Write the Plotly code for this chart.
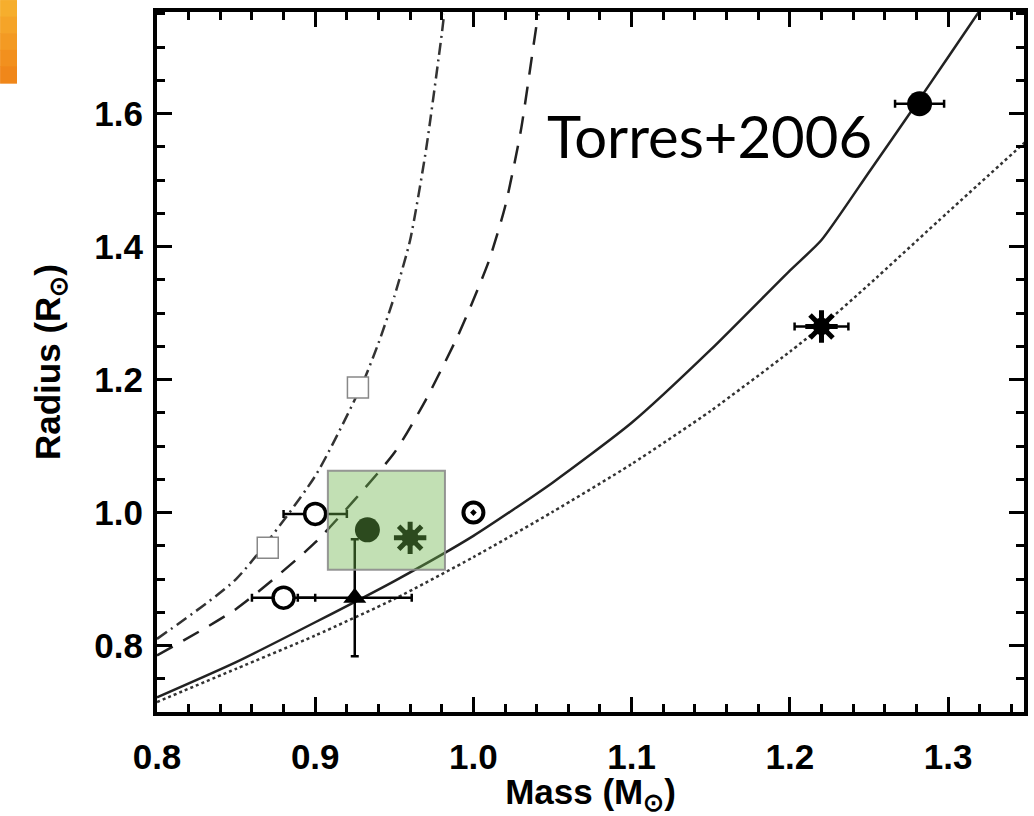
import plotly.graph_objects as go

# ---- model curves (mass in Msun, radius in Rsun) ----
solid_m = [0.80, 0.85, 0.90, 0.95, 1.00, 1.05, 1.10, 1.15, 1.20, 1.22, 1.25, 1.28, 1.30, 1.32]
solid_r = [0.722, 0.775, 0.835, 0.897, 0.965, 1.045, 1.135, 1.245, 1.364, 1.41, 1.512, 1.615, 1.685, 1.755]

dotted_m = [0.80, 0.85, 0.90, 0.95, 1.00, 1.05, 1.10, 1.15, 1.20, 1.22, 1.25, 1.30, 1.35]
dotted_r = [0.715, 0.765, 0.815, 0.87, 0.933, 1.001, 1.073, 1.153, 1.242, 1.28, 1.343, 1.452, 1.56]

dashed_m = [0.80, 0.85, 0.90, 0.95, 0.97, 0.99, 1.00, 1.01, 1.02, 1.03, 1.04, 1.0412]
dashed_r = [0.785, 0.855, 0.955, 1.09, 1.17, 1.265, 1.32, 1.38, 1.46, 1.575, 1.735, 1.75]

dashdot_m = [0.80, 0.85, 0.90, 0.93, 0.94, 0.95, 0.96, 0.97, 0.98, 0.9815]
dashdot_r = [0.81, 0.90, 1.055, 1.195, 1.255, 1.325, 1.41, 1.545, 1.72, 1.75]

# ---- observed systems ----
filled_m = [1.282, 0.933]
filled_r = [1.615, 0.974]
filled_mx = [0.0155, 0.0]

star_m = [1.22, 0.96]
star_r = [1.28, 0.962]
star_mx = [0.017, 0.0]
star_rx = [0.01, 0.0]

open_circ_m = [0.90, 0.88]
open_circ_r = [0.998, 0.872]
open_circ_mx = [0.02, 0.02]

square_m = [0.87, 0.927]
square_r = [0.947, 1.188]

tri_m = [0.925]
tri_r = [0.872]
tri_mx = [0.036]
tri_rx = [0.088]

sun_m = [1.0]
sun_r = [1.0]

# highlighted region
box_m = [0.908, 0.982]
box_r = [0.914, 1.063]

x_ticks = [0.8, 0.9, 1.0, 1.1, 1.2, 1.3]
y_ticks = [0.8, 1.0, 1.2, 1.4, 1.6]
label = "Torres+2006"

fig = go.Figure()
fig.add_trace(go.Scatter(x=solid_m, y=solid_r, mode="lines", line=dict(color="#222", width=2.5, shape="spline", smoothing=0.6)))
fig.add_trace(go.Scatter(x=dotted_m, y=dotted_r, mode="lines", line=dict(color="#333", width=2.5, dash="dot", shape="spline", smoothing=0.6)))
fig.add_trace(go.Scatter(x=dashed_m, y=dashed_r, mode="lines", line=dict(color="#222", width=2.5, dash="18px,12px", shape="spline", smoothing=0.6)))
fig.add_trace(go.Scatter(x=dashdot_m, y=dashdot_r, mode="lines", line=dict(color="#333", width=2.5, dash="12px,5px,2px,5px", shape="spline", smoothing=0.6)))

err = dict(type="data", color="black", thickness=2.5, width=4)
fig.add_trace(go.Scatter(x=tri_m, y=tri_r, mode="markers",
                         error_x=dict(array=tri_mx, **err), error_y=dict(array=tri_rx, **err),
                         marker=dict(symbol="triangle-up", size=20, color="black")))
fig.add_trace(go.Scatter(x=open_circ_m, y=open_circ_r, mode="markers",
                         error_x=dict(array=open_circ_mx, **err),
                         marker=dict(symbol="circle", size=21, color="white", line=dict(color="black", width=3.5))))
fig.add_trace(go.Scatter(x=square_m, y=square_r, mode="markers",
                         marker=dict(symbol="square", size=21, color="white", line=dict(color="#888", width=1.5))))
fig.add_trace(go.Scatter(x=filled_m, y=filled_r, mode="markers",
                         error_x=dict(array=filled_mx, **err),
                         marker=dict(symbol="circle", size=25, color="black")))
fig.add_trace(go.Scatter(x=star_m, y=star_r, mode="markers",
                         error_x=dict(array=star_mx, **err), error_y=dict(array=star_rx, **err),
                         marker=dict(symbol="asterisk", size=27, color="black", line=dict(color="black", width=5))))
fig.add_trace(go.Scatter(x=star_m, y=star_r, mode="markers",
                         marker=dict(symbol="circle", size=17, color="black")))
fig.add_trace(go.Scatter(x=sun_m, y=sun_r, mode="markers",
                         marker=dict(symbol="circle-dot", size=20, color="white", line=dict(color="black", width=4))))

fig.add_shape(type="rect", x0=box_m[0], x1=box_m[1], y0=box_r[0], y1=box_r[1], xref="x", yref="y",
              fillcolor="rgba(107,180,73,0.41)", line=dict(color="rgba(140,140,140,0.9)", width=2), layer="above")

# orange decoration at top-left
oranges = ["#F6AE2D", "#F5A428", "#F39A23", "#F2901E", "#F0871A"]
n = len(oranges)
for i, c in enumerate(oranges):
    y1 = 1.0171 - i * (1.0171 - 0.8986) / n
    y0 = 1.0171 - (i + 1) * (1.0171 - 0.8986) / n
    fig.add_shape(type="rect", xref="paper", yref="paper", x0=-0.181, x1=-0.1615, y0=y0 - 0.001, y1=y1,
                  fillcolor=c, line=dict(width=0), layer="above")

fig.add_annotation(x=1.0455, y=1.567, xref="x", yref="y", text=label, showarrow=False,
                   xanchor="left", yanchor="middle", font=dict(family="Lato", size=58, color="black"))

tickfont = dict(family="Liberation Sans", size=35, color="black", weight="bold")
titlefont = dict(family="Liberation Sans", size=35, color="black", weight="bold")
axis_common = dict(showgrid=False, zeroline=False, showline=True, linecolor="black", linewidth=4,
                   mirror="allticks", ticks="inside", ticklen=15, tickwidth=3, tickcolor="black",
                   tickfont=tickfont, automargin=False)
fig.update_xaxes(range=[0.8, 1.348], tickvals=x_ticks, ticktext=[f"{v:.1f}" for v in x_ticks],
                 minor=dict(dtick=0.02, tick0=0.8, ticks="inside", ticklen=8, tickwidth=2.5, tickcolor="black"),
                 ticklabelstandoff=11,
                 title=dict(text="Mass (M<sub>⊙</sub>)", font=titlefont, standoff=8),
                 **axis_common)
fig.update_yaxes(range=[0.7, 1.753], tickvals=y_ticks, ticktext=[f"{v:.1f}" for v in y_ticks],
                 minor=dict(dtick=0.05, tick0=0.7, ticks="inside", ticklen=8, tickwidth=2.5, tickcolor="black"),
                 ticklabelstandoff=3,
                 title=dict(text="Radius (R<sub>⊙</sub>)", font=titlefont, standoff=24),
                 **axis_common)

fig.update_layout(width=1034, height=816, showlegend=False, plot_bgcolor="white", paper_bgcolor="white",
                  margin=dict(l=157, r=10, t=12, b=104))
fig.write_html("out.html", config={"displayModeBar": False},
               post_script="document.body.style.margin='0px';")
